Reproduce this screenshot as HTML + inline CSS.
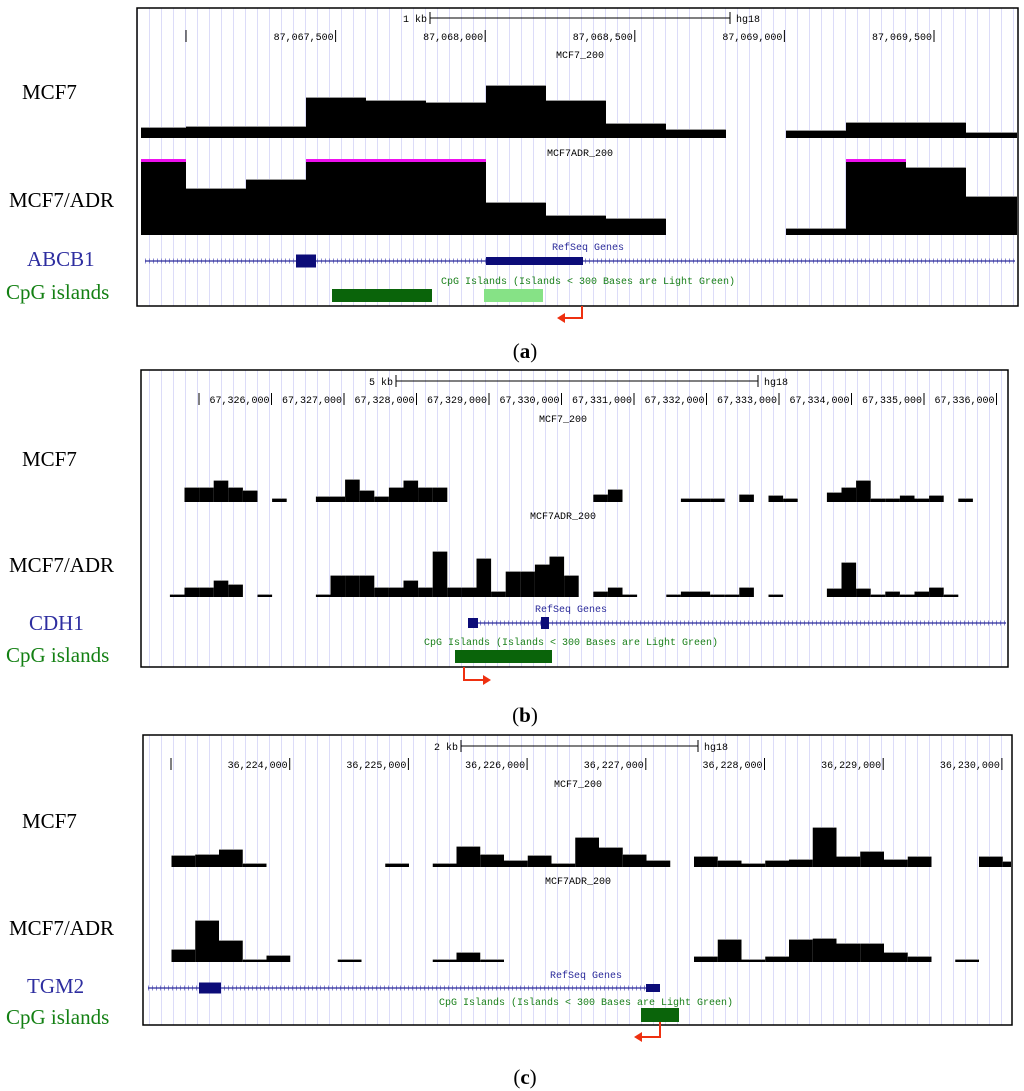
<!DOCTYPE html>
<html><head><meta charset="utf-8"><style>
html,body{margin:0;padding:0;background:#fff;}
svg{display:block;}
.lab{font-family:"Liberation Serif",serif;font-size:21px;}
.mono{font-family:"Liberation Mono",monospace;font-size:10px;}
</style></head><body>
<svg id="fig" width="1024" height="1091" viewBox="0 0 1024 1091" xmlns="http://www.w3.org/2000/svg">
<defs>
<pattern id="grid" x="0" y="0" width="12" height="10" patternUnits="userSpaceOnUse">
<rect width="12" height="10" fill="#fff"/><rect x="5" width="1" height="10" fill="#dcdcf8"/>
</pattern>
</defs>
</svg>
<script>
// ---------- Panel A data (200bp bins, coverage px units) ----------
const aTicks = ["", "87,067,500", "87,068,000", "87,068,500", "87,069,000", "87,069,500"];
const aMcf7 = [10, 11, 11, 40, 37, 35, 52, 37, 14, 8, null, 7, 15, 15, 5];
const aAdr  = [90, 46, 55, 90, 90, 90, 32, 19, 16, null, null, 6, 90, 67, 38];
// ---------- Panel B data ----------
const bTicks = ["", "67,326,000", "67,327,000", "67,328,000", "67,329,000", "67,330,000", "67,331,000", "67,332,000", "67,333,000", "67,334,000", "67,335,000", "67,336,000"];
const bMcf7 = [null, 14, 14, 21, 14, 11, null, 3, null, null, 5, 5, 22, 11, 5, 14, 21, 14, 14, null, null, null, null, null, null, null, null, null, null, 7, 12, null, null, null, null, 3, 3, 3, null, 7, null, 6, 3, null, null, 9, 14, 21, 3, 3, 6, 3, 6, null, 3];
const bAdr  = [2, 9, 9, 16, 12, null, 2, null, null, null, 2, 21, 21, 21, 9, 9, 16, 9, 45, 9, 9, 38, 5, 25, 25, 32, 40, 21, null, 5, 9, 2, null, null, 2, 5, 5, 2, 2, 9, null, 2, null, null, null, 8, 34, 8, 2, 5, 2, 5, 9, 2];
// ---------- Panel C data ----------
const cTicks = ["", "36,224,000", "36,225,000", "36,226,000", "36,227,000", "36,228,000", "36,229,000", "36,230,000"];
const cMcf7 = [11, 12, 17, 3, null, null, null, null, null, 3, null, 3, 20, 12, 6, 11, 3, 29, 19, 12, 6, null, 10, 6, 3, 6, 7, 39, 10, 15, 7, 10, null, null, 10, 5];
const cAdr  = [12, 41, 21, 2, 6, null, null, 2, null, null, null, 2, 9, 2, null, null, null, null, null, null, null, null, 5, 22, 2, 5, 22, 23, 18, 18, 9, 5, null, 2];

const svg = document.getElementById('fig');
const NS = 'http://www.w3.org/2000/svg';
function mk(tag, attrs, parent){ const e=document.createElementNS(NS,tag); for(const k in attrs) e.setAttribute(k,attrs[k]); (parent||svg).appendChild(e); return e; }
function txt(x,y,s,cls,fill,anchor,parent){ const t=mk('text',{x:x,y:y,class:cls,fill:fill||'#000','text-anchor':anchor||'start'},parent); t.textContent=s; return t; }

function drawTrack(g, vals, x0, bw, base, maxH, xmin, xmax, name){
  for(let i=0;i<vals.length;i++){
    const v=vals[i]; if(v===null) continue;
    let xa=x0+i*bw, xb=xa+bw;
    xa=Math.max(xa,xmin); xb=Math.min(xb,xmax); if(xb<=xa) continue;
    const h=Math.min(v,maxH);
    const r=mk('rect',{x:xa,y:base-h,width:xb-xa,height:h,fill:'#000'},g);
    
    
    mk('rect',{x:xa,y:base-h-1,width:xb-xa,height:1,fill:'#999'},g);
    if(v>maxH){ const m=mk('rect',{x:xa,y:base-h-1,width:xb-xa,height:3,fill:'#ee10ee'},g);
      
       }
  }
}
function gene(g,x1,x2,y){
  mk('line',{x1:x1,y1:y,x2:x2,y2:y,stroke:'#8c8cd0','stroke-width':5,'stroke-dasharray':'1 3'},g);
  mk('line',{x1:x1,y1:y,x2:x2,y2:y,stroke:'#2a2a9a','stroke-width':1.2},g);
}

function panel(P){
  const g=mk('g',{});
  
  
  const fr=mk('rect',{x:P.fx,y:P.fy,width:P.fw,height:P.fh,fill:'url(#grid)',stroke:'#000','stroke-width':1.5},g);
  
  
  // scale bar
  const sb=mk('g',{},g);
  
  
  mk('line',{x1:P.sb[0],y1:P.sby,x2:P.sb[1],y2:P.sby,stroke:'#000','stroke-width':1},sb);
  mk('line',{x1:P.sb[0],y1:P.sby-6,x2:P.sb[0],y2:P.sby+6,stroke:'#000'},sb);
  mk('line',{x1:P.sb[1],y1:P.sby-6,x2:P.sb[1],y2:P.sby+6,stroke:'#000'},sb);
  txt(P.sb[0]-3,P.sby+4,P.sbLabel,'mono','#000','end',sb);
  txt(P.sb[1]+6,P.sby+4,'hg18','mono','#000','start',sb);
  // ticks
  P.ticks.forEach((t,i)=>{
    const x=P.t0+i*P.tstep;
    const tl=mk('line',{x1:x,y1:P.ty-10,x2:x,y2:P.ty+2,stroke:'#000'},g);
    
    
    if(t){ const tt=txt(x-2,P.ty,t,'mono','#000','end',g);
      
       }
  });
  txt(P.cx,P.l1y,'MCF7_200','mono','#000','middle',g);
  txt(P.cx,P.l2y,'MCF7ADR_200','mono','#000','middle',g);
  const t1=mk('g',{},g);  
  drawTrack(t1,P.m,P.x0,P.bw,P.b1,P.maxH,P.fx+4,P.fx+P.fw-1,'mcf7');
  const t2=mk('g',{},g);  
  drawTrack(t2,P.a,P.x0,P.bw,P.b2,P.maxH,P.fx+4,P.fx+P.fw-1,'mcf7adr');
  txt(P.cx+8,P.rgy,'RefSeq Genes','mono','#2a2a9a','middle',g);
  const gg=mk('g',{},g);  
  gene(gg,P.gene[0],P.gene[1],P.gy);
  P.exons.forEach(e=>{ mk('rect',{x:e[0],y:P.gy-e[2]/2,width:e[1]-e[0],height:e[2],fill:'#0c0c78'},gg); });
  txt(P.cx+8,P.cpgy,'CpG Islands (Islands < 300 Bases are Light Green)','mono','#1a801a','middle',g);
  P.cpg.forEach(c=>{ const r=mk('rect',{x:c[0],y:c[2],width:c[1]-c[0],height:c[3]-c[2],fill:c[4]},g);
      });
  const ar=mk('g',{},g);  
  const A=P.arrow;
  mk('polyline',{points:`${A[0]},${A[1]} ${A[0]},${A[2]} ${A[3]+A[4]*6},${A[2]}`,fill:'none',stroke:'#ee3010','stroke-width':2},ar);
  mk('polygon',{points:`${A[3]},${A[2]} ${A[3]+A[4]*8},${A[2]-5} ${A[3]+A[4]*8},${A[2]+5}`,fill:'#ee3010'},ar);
  // left labels
  const L=P.left;
  txt(22,L[0],'MCF7','lab');
  txt(9,L[1],'MCF7/ADR','lab');
  txt(L[4],L[2],P.geneName,'lab','#2e2ea0');
  txt(6,L[3],'CpG islands','lab','#138013');
  const cap=mk('text',{x:525,y:P.capy,class:'lab','text-anchor':'middle'});
  
  
  cap.innerHTML='(<tspan font-weight="bold">'+P.cap+'</tspan>)';
}

panel({name:'panel-a',fx:137,fy:8,fw:881,fh:298,sb:[430,730],sby:18,sbLabel:'1 kb',
  ticks:aTicks,t0:186,tstep:149.6,ty:40,cx:580,l1y:58,l2y:156,
  m:aMcf7,a:aAdr,x0:126,bw:60,b1:138,b2:235,maxH:75,
  rgy:250,gene:[145,1015],gy:261,exons:[[296,316,13],[486,583,8]],geneName:'ABCB1',
  cpgy:284,cpg:[[332,432,289,302,'#0a640a'],[484,543,289,302,'#86e286']],
  arrow:[582,306,318,557,1],left:[99,207,266,299,27],cap:'a',capy:358});

panel({name:'panel-b',fx:141,fy:370,fw:867,fh:297,sb:[396,758],sby:381,sbLabel:'5 kb',
  ticks:bTicks,t0:199,tstep:72.5,ty:403,cx:563,l1y:422,l2y:519,
  m:bMcf7,a:bAdr,x0:169.9,bw:14.6,b1:502,b2:597,maxH:90,
  rgy:612,gene:[472,1006],gy:623,exons:[[468,478,10],[541,549,12]],geneName:'CDH1',
  cpgy:645,cpg:[[455,552,650,663,'#0a640a']],
  arrow:[464,667,680,491,-1],left:[466,572,630,662,29],cap:'b',capy:722});

panel({name:'panel-c',fx:143,fy:735,fw:869,fh:290,sb:[461,698],sby:746,sbLabel:'2 kb',
  ticks:cTicks,t0:171,tstep:118.7,ty:768,cx:578,l1y:787,l2y:884,
  m:cMcf7,a:cAdr,x0:171.5,bw:23.75,b1:867,b2:962,maxH:90,
  rgy:978,gene:[148,660],gy:988,exons:[[199,221,11],[646,660,8]],geneName:'TGM2',
  cpgy:1005,cpg:[[641,679,1008,1022,'#0a640a']],
  arrow:[660,1022,1037,634,1],left:[828,935,993,1024,27],cap:'c',capy:1084});
</script>
</body></html>
